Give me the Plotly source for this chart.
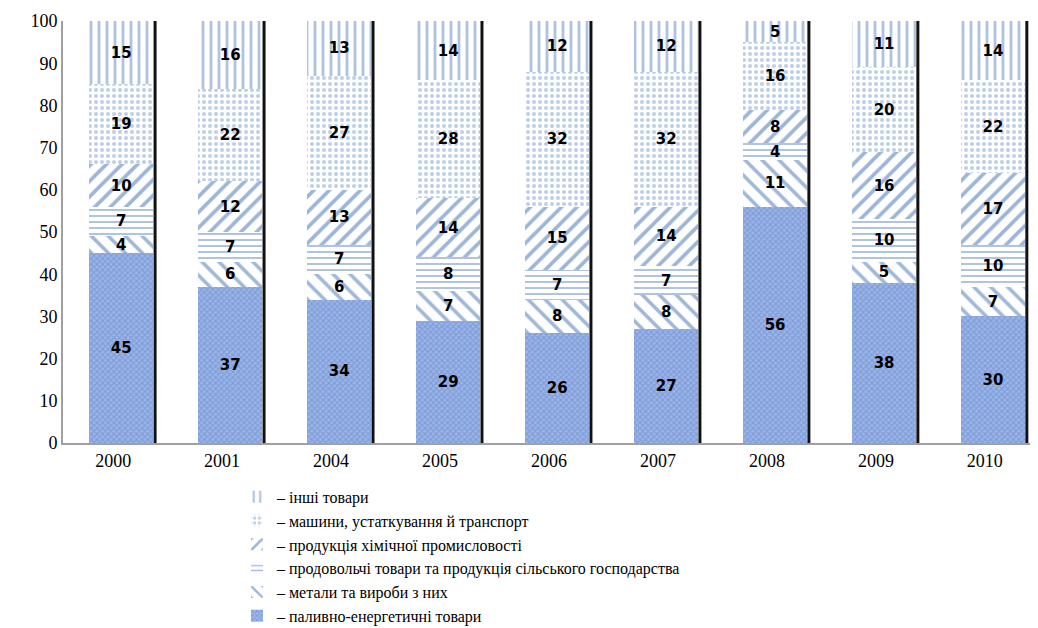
import plotly.graph_objects as go

years = ["2000", "2001", "2004", "2005", "2006", "2007", "2008", "2009", "2010"]
fuel = [45, 37, 34, 29, 26, 27, 56, 38, 30]
metals = [4, 6, 6, 7, 8, 8, 11, 5, 7]
food = [7, 7, 7, 8, 7, 7, 4, 10, 10]
chem = [10, 12, 13, 14, 15, 14, 8, 16, 17]
machines = [19, 22, 27, 28, 32, 32, 16, 20, 22]
other = [15, 16, 13, 14, 12, 12, 5, 11, 14]

names = [
    "– паливно-енергетичні товари",
    "– метали та вироби з них",
    "– продовольчі товари та продукція сільського господарства",
    "– продукція хімічної промисловості",
    "– машини, устаткування й транспорт",
    "– інші товари",
]
series = [fuel, metals, food, chem, machines, other]
styles = [
    dict(shape="x", bg="#9ab5e6", fg="#5f7ec9", size=4, sol=0.45),
    dict(shape="\\", bg="#ffffff", fg="#3f6fb4", size=12, sol=0.3),
    dict(shape="-", bg="#ffffff", fg="#4f7cbc", size=6, sol=0.3),
    dict(shape="/", bg="#ffffff", fg="#3a6cb2", size=11, sol=0.33),
    dict(shape=".", bg="#ffffff", fg="#7c9dd2", size=6, sol=0.35),
    dict(shape="|", bg="#ffffff", fg="#5f86c0", size=8, sol=0.35),
]

xs = list(range(len(years)))
fig = go.Figure()
for vals, name, st in zip(series, names, styles):
    fig.add_trace(go.Bar(
        x=xs, y=vals, name=name,
        offset=-0.22, width=0.59,
        marker=dict(color=st["bg"], line=dict(width=0),
                    pattern=dict(shape=st["shape"], fgcolor=st["fg"], bgcolor=st["bg"],
                                 size=st["size"], solidity=st["sol"], fillmode="overlay")),
        text=[f"<b>{v}</b>" for v in vals], textposition="inside",
        insidetextanchor="middle", textangle=0,
        textfont=dict(family="DejaVu Sans", size=15, color="black"),
        constraintext="none",
    ))

# dark right-edge line of each bar column
totals = [sum(c) for c in zip(*series)]
for i, t in zip(xs, totals):
    fig.add_trace(go.Scatter(x=[i + 0.385, i + 0.385], y=[0, t], mode="lines",
                             line=dict(color="#111111", width=3), showlegend=False,
                             hoverinfo="skip"))

fig.update_layout(
    width=1030, height=620,
    barmode="stack",
    plot_bgcolor="white", paper_bgcolor="white",
    margin=dict(l=55, r=3, t=13, b=185, autoexpand=False),
    showlegend=True,
    legend=dict(traceorder="reversed", x=0.179, xanchor="left",
                yref="container", y=0.239, yanchor="top",
                font=dict(family="Liberation Serif", size=16, color="black"),
                tracegroupgap=0, itemwidth=30, bgcolor="rgba(0,0,0,0)"),
    uniformtext=dict(mode="show", minsize=10),
)
fig.update_xaxes(range=[-0.46, 8.46], tickvals=xs, ticktext=years, showgrid=False,
                 showline=True, linecolor="#a0a0a0", linewidth=2, ticks="",
                 tickfont=dict(family="Liberation Serif", size=18, color="black"),
                 zeroline=False, automargin=False)
fig.update_yaxes(range=[0, 100], dtick=10, showgrid=False, showline=True,
                 linecolor="#a0a0a0", linewidth=2, ticks="", zeroline=False,
                 automargin=False,
                 tickfont=dict(family="Liberation Serif", size=18, color="black"))

fig.write_html("out.html")
